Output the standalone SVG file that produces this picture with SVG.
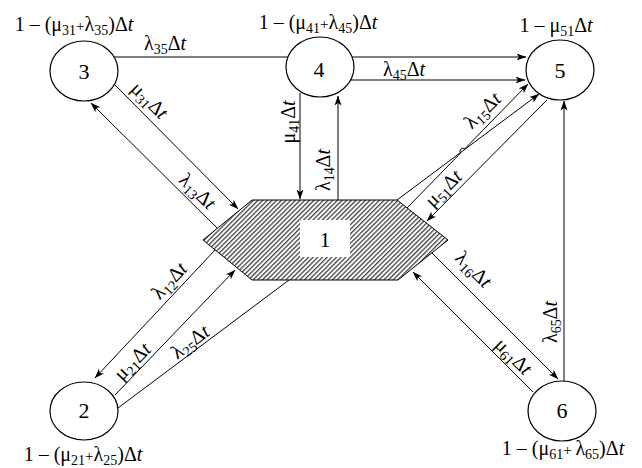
<svg xmlns="http://www.w3.org/2000/svg" width="642" height="468" viewBox="0 0 642 468">
<style>
.t{font-family:"Liberation Serif","Times New Roman",serif;font-size:20px;fill:#000}
.n{font-family:"Liberation Serif","Times New Roman",serif;font-size:22px;fill:#000;text-anchor:middle}
.s{font-size:14px}
.p{font-size:15px}
.i{font-style:italic}
.m{text-anchor:middle}
.ln{fill:none;stroke:#000;stroke-width:1}
.ar{marker-end:url(#arr)}
.nd{fill:#fff;stroke:#000;stroke-width:1.2}
</style>
<defs>
<marker id="arr" viewBox="0 0 10 8" refX="9.5" refY="4" markerWidth="10" markerHeight="8" markerUnits="userSpaceOnUse" orient="auto">
<path d="M0,0.5 L10,4 L0,7.5 L2.5,4 z" fill="#000"/>
</marker>
<pattern id="hatch" patternUnits="userSpaceOnUse" width="3.3" height="3.3" patternTransform="rotate(45)">
<rect width="3.3" height="3.3" fill="#fff"/>
<rect width="1.3" height="3.3" fill="#444"/>
</pattern>
</defs>

<g id="node1">
<polygon points="203,240 252,200 397,200 448,240 398,280 252,280" fill="url(#hatch)" stroke="#000" stroke-width="1"/>
<rect x="300" y="220" width="50" height="37" fill="#fff"/>
<text class="n" x="325" y="247">1</text>
</g>

<g id="connectors">
<!-- 3 -> 5 -->
<path class="ln ar" d="M112,57 L526,57"/>
<text class="t m" x="165" y="50">λ<tspan class="s" dy="4">35</tspan><tspan dy="-4">Δ</tspan><tspan class="i">t</tspan></text>
<!-- 4 -> 5 -->
<path class="ln ar" d="M350,80 L525,80"/>
<text class="t m" x="404" y="76">λ<tspan class="s" dy="4">45</tspan><tspan dy="-4">Δ</tspan><tspan class="i">t</tspan></text>
<!-- 4 -> 1 -->
<path class="ln ar" d="M300,93 L300,199"/>
<text class="t m" transform="translate(295,122) rotate(-90)">μ<tspan class="s" dy="4">41</tspan><tspan dy="-4">Δ</tspan><tspan class="i">t</tspan></text>
<!-- 1 -> 4 -->
<path class="ln ar" d="M338,200 L338,96"/>
<text class="t m" transform="translate(330,170) rotate(-90)">λ<tspan class="s" dy="4">14</tspan><tspan dy="-4">Δ</tspan><tspan class="i">t</tspan></text>
<!-- 3 -> 1 -->
<path class="ln ar" d="M115,85 L238,209"/>
<text class="t m" transform="translate(145,105) rotate(45)">μ<tspan class="s" dy="4">31</tspan><tspan dy="-4">Δ</tspan><tspan class="i">t</tspan></text>
<!-- 1 -> 3 -->
<path class="ln ar" d="M217,228 L91,103"/>
<text class="t m" transform="translate(193,196) rotate(44)">λ<tspan class="s" dy="4">13</tspan><tspan dy="-4">Δ</tspan><tspan class="i">t</tspan></text>
<!-- 2 -> 5 -->
<path class="ln" d="M118,408 L289,280"/>
<path class="ln ar" d="M397,200 L539,94"/>
<text class="t m" transform="translate(194,347) rotate(-37)">λ<tspan class="s" dy="4">25</tspan><tspan dy="-4">Δ</tspan><tspan class="i">t</tspan></text>
<!-- 1 -> 5 -->
<path class="ln ar" d="M407,208 L460.6,153 A3,3 0 0 1 464.8,148.8 L528,84"/>
<text class="t m" transform="translate(487,115) rotate(-44)">λ<tspan class="s" dy="4">15</tspan><tspan dy="-4">Δ</tspan><tspan class="i">t</tspan></text>
<!-- 5 -> 1 -->
<path class="ln ar" d="M547,100 L427,221"/>
<text class="t m" transform="translate(448,193) rotate(-45)">μ<tspan class="s" dy="4">51</tspan><tspan dy="-4">Δ</tspan><tspan class="i">t</tspan></text>
<!-- 1 -> 2 -->
<path class="ln ar" d="M215,250 L95,378"/>
<text class="t m" transform="translate(174,285) rotate(-47)">λ<tspan class="s" dy="4">12</tspan><tspan dy="-4">Δ</tspan><tspan class="i">t</tspan></text>
<!-- 2 -> 1 -->
<path class="ln ar" d="M115,395 L235,270"/>
<text class="t m" transform="translate(137,366) rotate(-46)">μ<tspan class="s" dy="4">21</tspan><tspan dy="-4">Δ</tspan><tspan class="i">t</tspan></text>
<!-- 1 -> 6 -->
<path class="ln ar" d="M432,253 L558,379"/>
<text class="t m" transform="translate(469,274) rotate(45)">λ<tspan class="s" dy="4">16</tspan><tspan dy="-4">Δ</tspan><tspan class="i">t</tspan></text>
<!-- 6 -> 1 -->
<path class="ln ar" d="M533,392 L413,272"/>
<text class="t m" transform="translate(509,361) rotate(45)">μ<tspan class="s" dy="4">61</tspan><tspan dy="-4">Δ</tspan><tspan class="i">t</tspan></text>
<!-- 6 -> 5 -->
<path class="ln ar" d="M564,382 L564,101"/>
<text class="t m" transform="translate(557,322) rotate(-90)">λ<tspan class="s" dy="4">65</tspan><tspan dy="-4">Δ</tspan><tspan class="i">t</tspan></text>
</g>

<g id="node3">
<ellipse class="nd" cx="84" cy="71" rx="34" ry="30"/>
<text class="n" x="84" y="79">3</text>
<text class="t m" x="74" y="31">1 – (μ<tspan class="s" dy="4">31</tspan><tspan class="p" dy="-4">+</tspan>λ<tspan class="s" dy="4">35</tspan><tspan dy="-4">)Δ</tspan><tspan class="i">t</tspan></text>
</g>

<g id="node4">
<ellipse class="nd" cx="320" cy="67" rx="34" ry="30"/>
<text class="n" x="319" y="77">4</text>
<text class="t m" x="318" y="29">1 – (μ<tspan class="s" dy="4">41</tspan><tspan class="p" dy="-4">+</tspan>λ<tspan class="s" dy="4">45</tspan><tspan dy="-4">)Δ</tspan><tspan class="i">t</tspan></text>
</g>

<g id="node5">
<ellipse class="nd" cx="560" cy="70" rx="34" ry="30"/>
<text class="n" x="560" y="78">5</text>
<text class="t m" x="556" y="32">1 – μ<tspan class="s" dy="4">51</tspan><tspan dy="-4">Δ</tspan><tspan class="i">t</tspan></text>
</g>

<g id="node2">
<ellipse class="nd" cx="84" cy="411" rx="34" ry="29"/>
<text class="n" x="84" y="418">2</text>
<text class="t m" x="83" y="461">1 – (μ<tspan class="s" dy="4">21</tspan><tspan class="p" dy="-4">+</tspan>λ<tspan class="s" dy="4">25</tspan><tspan dy="-4">)Δ</tspan><tspan class="i">t</tspan></text>
</g>

<g id="node6">
<ellipse class="nd" cx="562" cy="411" rx="34" ry="30"/>
<text class="n" x="562" y="418">6</text>
<text class="t m" x="563" y="455">1 – (μ<tspan class="s" dy="4">61</tspan><tspan class="p" dy="-4">+ </tspan>λ<tspan class="s" dy="4">65</tspan><tspan dy="-4">)Δ</tspan><tspan class="i">t</tspan></text>
</g>
</svg>
